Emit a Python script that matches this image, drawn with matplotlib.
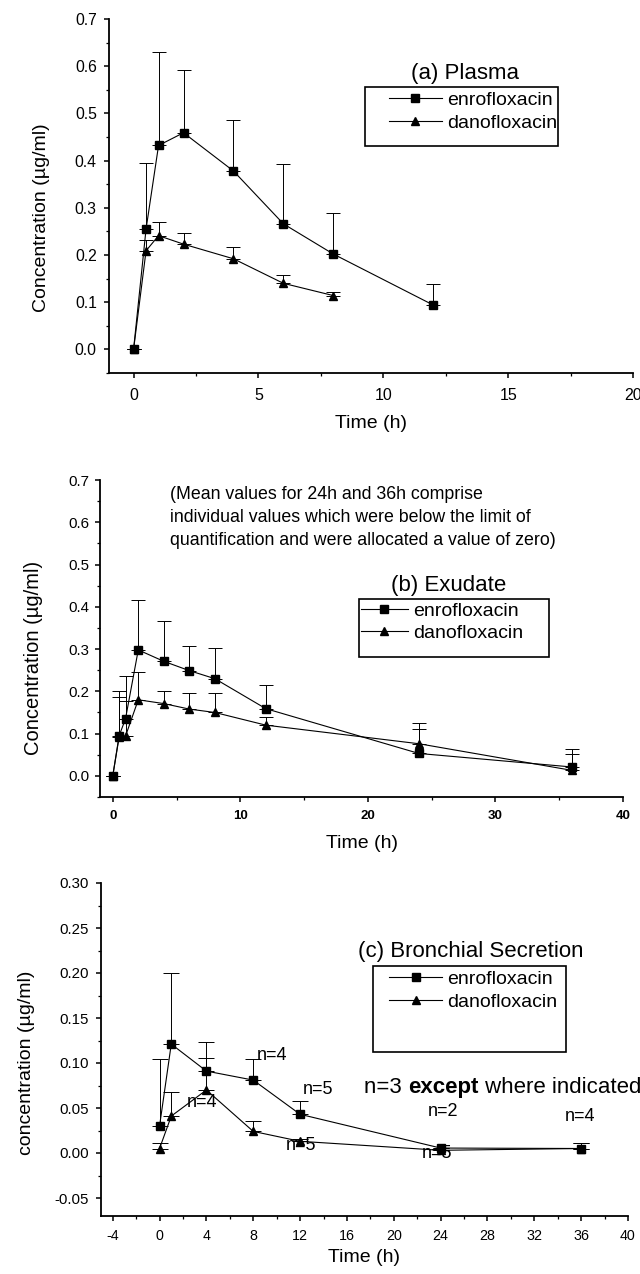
import matplotlib
matplotlib.use("Agg")
import matplotlib.pyplot as plt
from matplotlib.patches import Rectangle
from matplotlib.lines import Line2D
from matplotlib.ticker import MultipleLocator, FormatStrFormatter
import numpy as np

plt.rcParams['font.family'] = ['Liberation Sans', 'DejaVu Sans']
plt.rcParams['axes.unicode_minus'] = False

# ---------------- data ----------------
# (a) Plasma
a_enro_t = [0, 0.5, 1, 2, 4, 6, 8, 12]
a_enro_c = [0.0, 0.255, 0.432, 0.459, 0.378, 0.266, 0.202, 0.094]
a_enro_e = [0.0, 0.140, 0.198, 0.134, 0.107, 0.127, 0.088, 0.044]
a_dano_t = [0, 0.5, 1, 2, 4, 6, 8]
a_dano_c = [0.0, 0.209, 0.241, 0.223, 0.192, 0.140, 0.114]
a_dano_e = [0.0, 0.022, 0.029, 0.024, 0.026, 0.017, 0.008]

# (b) Exudate
b_enro_t = [0, 0.5, 1, 2, 4, 6, 8, 12, 24, 36]
b_enro_c = [0.0, 0.095, 0.135, 0.298, 0.271, 0.249, 0.230, 0.159, 0.053, 0.021]
b_enro_e = [0.0, 0.106, 0.102, 0.118, 0.096, 0.059, 0.072, 0.057, 0.059, 0.043]
b_dano_t = [0, 0.5, 1, 2, 4, 6, 8, 12, 24, 36]
b_dano_c = [0.0, 0.092, 0.094, 0.180, 0.171, 0.158, 0.150, 0.120, 0.076, 0.013]
b_dano_e = [0.0, 0.094, 0.084, 0.065, 0.030, 0.037, 0.045, 0.019, 0.048, 0.039]

# (c) Bronchial secretion
c_enro_t = [0, 1, 4, 8, 12, 24, 36]
c_enro_c = [0.030, 0.121, 0.091, 0.081, 0.043, 0.0055, 0.005]
c_enro_e = [0.075, 0.079, 0.032, 0.024, 0.015, 0.0, 0.006]
c_dano_t = [0, 1, 4, 8, 12, 24, 36]
c_dano_c = [0.005, 0.041, 0.070, 0.024, 0.013, 0.003, 0.005]
c_dano_e = [0.006, 0.027, 0.036, 0.012, 0.003, 0.0, 0.006]

c_n_labels = ["n=4", "n=5", "n=4", "n=5", "n=2", "n=5", "n=4"]
c_n_x = [8.3, 12.2, 2.3, 10.8, 22.9, 22.4, 34.6]
c_n_y = [0.108, 0.070, 0.056, 0.0085, 0.046, -0.0007, 0.041]

series_names = ["enrofloxacin", "danofloxacin"]

# ---------------- figure ----------------
fig = plt.figure(figsize=(6.4, 12.74), dpi=100)
W, H = 640, 1274


def add_ax(left, right, top, bottom):
    return fig.add_axes([left / W, 1 - bottom / H, (right - left) / W, (bottom - top) / H])


def style(ax, xfs, yfs, xbold=False, xpad=6, ypad=4):
    for s in ['top', 'right']:
        ax.spines[s].set_visible(False)
    for s in ['left', 'bottom']:
        ax.spines[s].set_linewidth(1.3)
    ax.tick_params(which='major', direction='out', length=3.5, width=1.1)
    ax.tick_params(which='minor', direction='out', length=2, width=0.9)
    ax.tick_params(axis='x', which='major', labelsize=xfs, pad=xpad)
    ax.tick_params(axis='y', which='major', labelsize=yfs, pad=ypad)
    if xbold:
        for lab in ax.get_xticklabels():
            lab.set_fontweight('bold')


def draw(ax, t1, c1, e1, t2, c2, e2, ms_sq, ms_tri, cap):
    ax.errorbar(t1, c1, yerr=[np.zeros(len(e1)), e1], fmt='-', marker='s', color='black',
                ms=ms_sq, lw=0.8, elinewidth=0.7, capsize=cap, capthick=0.7, clip_on=False,
                zorder=3)
    ax.errorbar(t2, c2, yerr=[np.zeros(len(e2)), e2], fmt='-', marker='^', color='black',
                ms=ms_tri, lw=0.8, elinewidth=0.7, capsize=cap, capthick=0.7, clip_on=False,
                zorder=3)


def legend_box(ax, box, anchor, hlen, title, tpos, ms_sq, ms_tri):
    lh = [Line2D([], [], color='black', lw=0.8, marker='s', ms=ms_sq),
          Line2D([], [], color='black', lw=0.8, marker='^', ms=ms_tri)]
    ax.legend(lh, series_names, loc='upper left', bbox_to_anchor=anchor,
              frameon=False, fontsize=14, handlelength=hlen, handletextpad=0.3,
              borderaxespad=0, borderpad=0, labelspacing=0.25)
    x0, ytop, w, h = box
    ax.add_patch(Rectangle((x0, ytop - h), w, h, transform=ax.transAxes, fill=False,
                           edgecolor='black', lw=1.2, clip_on=False))
    ax.text(tpos[0], tpos[1], title, transform=ax.transAxes, ha='center', va='center',
            fontsize=16)


# ---- (a) ----
axa = add_ax(108.6, 633, 19, 373)
draw(axa, a_enro_t, a_enro_c, a_enro_e, a_dano_t, a_dano_c, a_dano_e, 5.2, 6.3, 5.3)
axa.set_xlim(-1, 20)
axa.set_ylim(-0.05, 0.7)
axa.xaxis.set_major_locator(MultipleLocator(5))
axa.xaxis.set_minor_locator(MultipleLocator(2.5))
axa.yaxis.set_major_locator(MultipleLocator(0.1))
axa.yaxis.set_minor_locator(MultipleLocator(0.05))
axa.yaxis.set_major_formatter(FormatStrFormatter('%.1f'))
style(axa, 11.5, 11.3, xpad=7, ypad=5)
axa.set_xlabel('Time (h)', fontsize=14, va='top')
axa.set_ylabel('Concentration (µg/ml)', fontsize=14)
axa.xaxis.set_label_coords(0.5, -0.118)
axa.yaxis.set_label_coords(-0.112, 0.44)
legend_box(axa, (0.489, 0.808, 0.368, 0.167), (0.535, 0.795), 2.7,
           '(a) Plasma', (0.68, 0.845), 5.2, 6.3)

# ---- (b) ----
axb = add_ax(100, 623, 480, 797)
draw(axb, b_enro_t, b_enro_c, b_enro_e, b_dano_t, b_dano_c, b_dano_e, 5.2, 6.0, 5.3)
axb.set_xlim(-1, 40)
axb.set_ylim(-0.05, 0.7)
axb.xaxis.set_major_locator(MultipleLocator(10))
axb.xaxis.set_minor_locator(MultipleLocator(5))
axb.yaxis.set_major_locator(MultipleLocator(0.1))
axb.yaxis.set_minor_locator(MultipleLocator(0.05))
axb.yaxis.set_major_formatter(FormatStrFormatter('%.1f'))
style(axb, 9.5, 10.8, xbold=True, xpad=6, ypad=4)
axb.set_xlabel('Time (h)', fontsize=14, va='top')
axb.set_ylabel('Concentration (µg/ml)', fontsize=14.5)
axb.xaxis.set_label_coords(0.5, -0.12)
axb.yaxis.set_label_coords(-0.109, 0.44)
legend_box(axb, (0.495, 0.625, 0.363, 0.183), (0.499, 0.615), 2.4,
           '(b) Exudate', (0.667, 0.666), 5.2, 6.0)
axb.text(4.5, 0.686, '(Mean values for 24h and 36h comprise\n'
         'individual values which were below the limit of\n'
         'quantification and were allocated a value of zero)',
         fontsize=12.8, ha='left', va='top', linespacing=1.45)

# ---- (c) ----
axc = add_ax(101, 628, 883, 1216)
draw(axc, c_enro_t, c_enro_c, c_enro_e, c_dano_t, c_dano_c, c_dano_e, 5.5, 6.0, 5.5)
axc.set_xlim(-5, 40)
axc.set_ylim(-0.07, 0.30)
axc.xaxis.set_major_locator(MultipleLocator(4))
axc.xaxis.set_minor_locator(MultipleLocator(2))
axc.yaxis.set_major_locator(MultipleLocator(0.05))
axc.yaxis.set_minor_locator(MultipleLocator(0.025))
axc.yaxis.set_major_formatter(FormatStrFormatter('%.2f'))
style(axc, 10.3, 10.8, xpad=6, ypad=5)
axc.set_xlabel('Time (h)', fontsize=14, va='top')
axc.set_ylabel('concentration (µg/ml)', fontsize=14)
axc.xaxis.set_label_coords(0.5, -0.1)
axc.yaxis.set_label_coords(-0.125, 0.46)
legend_box(axc, (0.516, 0.751, 0.366, 0.258), (0.547, 0.737), 2.7,
           '(c) Bronchial Secretion', (0.702, 0.793), 5.5, 6.0)
for lab, x, y in zip(c_n_labels, c_n_x, c_n_y):
    axc.text(x, y, lab, fontsize=13, ha='left', va='center')
t1 = axc.text(17.5, 0.073, 'n=3 ', fontsize=16, ha='left', va='center')
t2 = axc.annotate('except', xy=(1, 0), xycoords=t1, fontsize=16, fontweight='bold',
                  ha='left', va='bottom')
axc.annotate(' where indicated', xy=(1, 0), xycoords=t2, fontsize=16, ha='left', va='bottom',
             annotation_clip=False)

fig.savefig('out.png', dpi=100)
